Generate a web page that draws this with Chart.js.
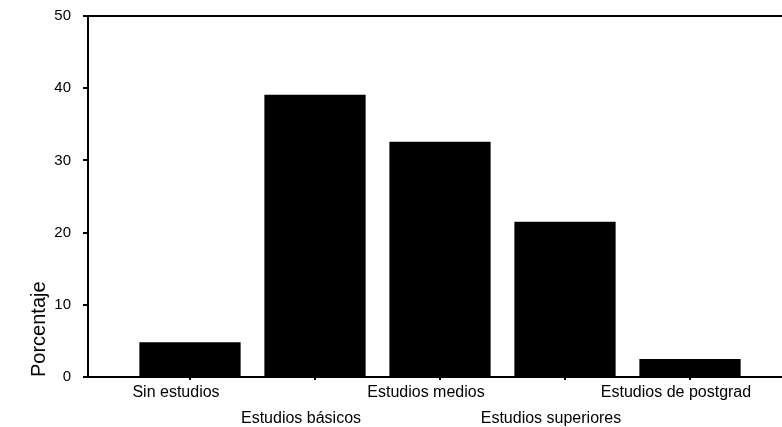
<!DOCTYPE html>
<html>
<head>
<meta charset="utf-8">
<script src="https://cdn.jsdelivr.net/npm/chart.js@4/dist/chart.umd.min.js"></script>
<style>
  html, body { margin: 0; padding: 0; background: #fff; }
  #wrap { width: 782px; height: 427px; }
</style>
</head>
<body>
<div id="wrap"><canvas id="grafico"></canvas></div>
<script>
// Datos
const categorias = ['Sin estudios', 'Estudios básicos', 'Estudios medios', 'Estudios superiores', 'Estudios de postgrad'];
const porcentajes = [4.8, 39.1, 32.6, 21.5, 2.5];
const ticksY = [0, 10, 20, 30, 40, 50];

const fuente = 'Liberation Sans, Arial, sans-serif';

const ctx = document.getElementById('grafico').getContext('2d');

new Chart(ctx, {
    type: 'bar',
    data: {
        datasets: [{
            data: porcentajes.map((v, i) => ({ x: i + 1, y: v })),
            backgroundColor: '#000',
            borderWidth: 0,
            categoryPercentage: 0.9,
            barPercentage: 0.9
        }]
    },
    options: {
        responsive: true,
        maintainAspectRatio: false,
        animation: false,
        layout: { padding: { top: 16, right: 0, left: 27, bottom: 0 } },
        plugins: {
            legend: { display: false },
            tooltip: { enabled: false }
        },
        scales: {
            x: {
                type: 'linear',
                offset: false,
                min: 0.184,
                max: 5.736,
                afterBuildTicks: axis => {
                    axis.ticks = categorias.map((c, i) => ({ value: i + 1 }));
                },
                afterFit: axis => { axis.height = 50; },
                border: { color: '#000', width: 2 },
                grid: { offset: false, drawOnChartArea: false, tickLength: 3, color: '#000', lineWidth: 2 },
                ticks: {
                    color: '#000',
                    font: { family: fuente, size: 16, lineHeight: 1.6 },
                    padding: 0,
                    labelOffset: -14,
                    maxRotation: 0,
                    autoSkip: false,
                    callback: v => {
                        const i = Math.round(v) - 1;
                        return i % 2 === 0 ? [categorias[i]] : ['', categorias[i]];
                    }
                }
            },
            y: {
                min: 0,
                max: 50,
                afterBuildTicks: axis => {
                    axis.ticks = ticksY.map(v => ({ value: v }));
                },
                afterFit: axis => {
                    axis.width = 61;
                    axis.paddingTop = 0;
                },
                border: { color: '#000', width: 2 },
                grid: {
                    drawOnChartArea: true,
                    color: c => (c.tick && c.tick.value === 50 ? '#000' : 'rgba(0,0,0,0)'),
                    tickColor: '#000',
                    lineWidth: 2,
                    tickLength: 5
                },
                ticks: {
                    color: '#000',
                    font: { family: fuente, size: 15 },
                    padding: 12
                },
                title: {
                    display: true,
                    text: 'Porcentaje',
                    align: 'start',
                    color: '#000',
                    font: { family: fuente, size: 20 },
                    padding: { top: 0, bottom: 0 }
                }
            }
        }
    }
});
</script>
</body>
</html>
